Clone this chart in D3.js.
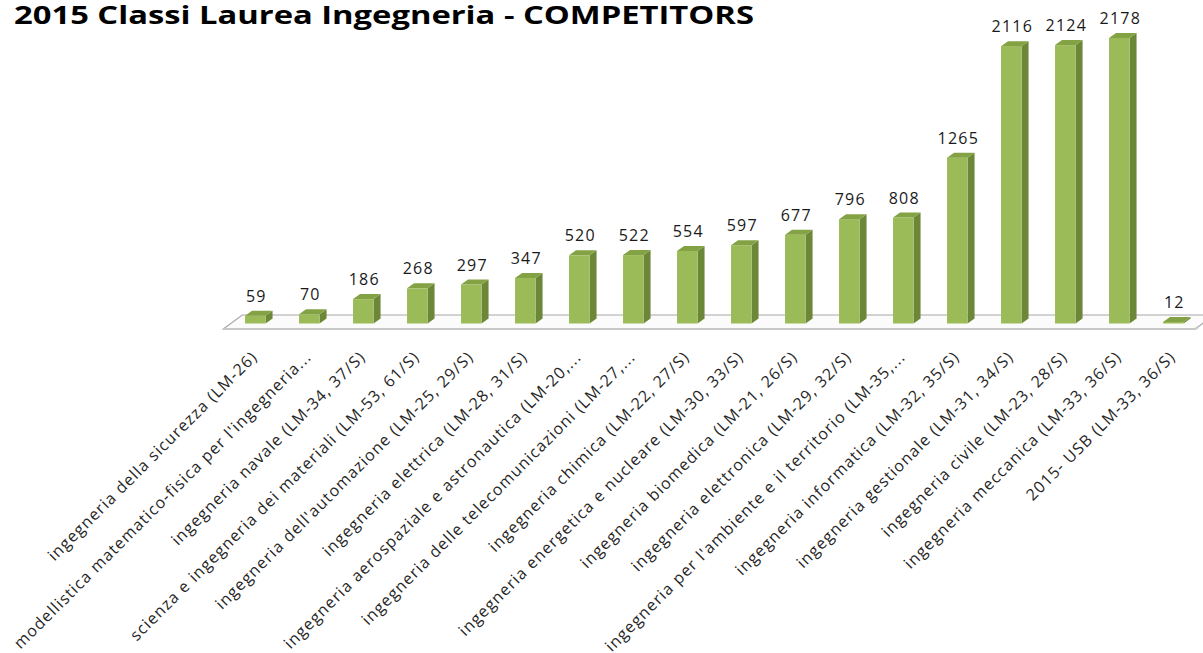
<!DOCTYPE html>
<html><head><meta charset="utf-8">
<script src="https://cdn.jsdelivr.net/npm/d3@7/dist/d3.min.js"></script>
<style>body{margin:0;background:#fff;overflow:hidden}svg{display:block}</style>
</head><body><svg id="c" width="1203" height="653"></svg>
<script>
const title = "2015 Classi Laurea Ingegneria - COMPETITORS";
const categories = [
  "ingegneria della sicurezza (LM-26)",
  "modellistica matematico-fisica per l'ingegneria...",
  "ingegneria navale (LM-34, 37/S)",
  "scienza e ingegneria dei materiali (LM-53, 61/S)",
  "ingegneria dell'automazione (LM-25, 29/S)",
  "ingegneria elettrica (LM-28, 31/S)",
  "ingegneria aerospaziale e astronautica (LM-20,...",
  "ingegneria delle telecomunicazioni (LM-27,...",
  "ingegneria chimica (LM-22, 27/S)",
  "ingegneria energetica e nucleare (LM-30, 33/S)",
  "ingegneria biomedica (LM-21, 26/S)",
  "ingegneria elettronica (LM-29, 32/S)",
  "ingegneria per l'ambiente e il territorio (LM-35,...",
  "ingegneria informatica (LM-32, 35/S)",
  "ingegneria gestionale (LM-31, 34/S)",
  "ingegneria civile (LM-23, 28/S)",
  "ingegneria meccanica (LM-33, 36/S)",
  "2015- USB  (LM-33, 36/S)"
];
const values = [59,70,186,268,297,347,520,522,554,597,677,796,808,1265,2116,2124,2178,12];

const svg = d3.select("#c");
const x = d3.scaleBand().domain(categories).range([228.3, 228.3 + 54*18]).paddingInner(0.62).paddingOuter(0.31);
const y = d3.scaleLinear().domain([0, 2178]).range([323.5, 38]);
const dx = 7, dy = -5;
const fdx = 19, fdy = -14;

// title
svg.append("text").attr("x", 14).attr("y", 24)
  .attr("font-family", "'Open Sans', sans-serif").attr("font-weight", "bold").attr("font-size", 25)
  .attr("textLength", 740).attr("lengthAdjust", "spacingAndGlyphs")
  .attr("fill", "#000").text(title);

// floor
const r = x.range();
const fl = r[0] - 5, fr = r[1] - 5, fy = 329;
svg.append("path")
  .attr("d", `M${fl},${fy} L${fl+fdx},${fy+fdy} L${fr+fdx},${fy+fdy} L${fr},${fy} Z`)
  .attr("fill", "#fbfbfb").attr("stroke", "#a8a8a8").attr("stroke-width", 1.2);
svg.append("path")
  .attr("d", `M${fl},${fy} L${fr},${fy} L${fr+fdx*0.15},${fy-2} `)
  .attr("fill", "none").attr("stroke", "#c8c8c8").attr("stroke-width", 2.2);

const data = categories.map((c, i) => ({c, v: values[i]}));
const g = svg.append("g");
const bw = x.bandwidth();
const y0 = y(0);
data.forEach(d => {
  const x0 = x(d.c), yt = y(d.v);
  g.append("path").attr("d", `M${x0+bw},${yt} L${x0+bw+dx},${yt+dy} L${x0+bw+dx},${y0+dy} L${x0+bw},${y0} Z`)
    .attr("fill", "#6c8738");
  g.append("rect").attr("x", x0).attr("y", yt).attr("width", bw).attr("height", y0 - yt).attr("fill", "#9bbb59");
  g.append("path").attr("d", `M${x0},${yt} L${x0+dx},${yt+dy} L${x0+bw+dx},${yt+dy} L${x0+bw},${yt} Z`)
    .attr("fill", "#83a244");
  g.append("text").attr("x", x0 + bw/2 + 1).attr("y", yt - 14)
    .attr("text-anchor", "middle").attr("font-family", "'Open Sans', sans-serif").attr("font-size", 16)
    .attr("letter-spacing", 1.2).attr("fill", "#1a1a1a").text(d.v);
});

// category labels
svg.append("g").selectAll("text").data(data).join("text")
  .attr("transform", d => `translate(${x(d.c) + bw/2 + 3},358) rotate(-45)`)
  .attr("text-anchor", "end").attr("font-family", "'Open Sans', sans-serif").attr("font-size", 16)
  .attr("letter-spacing", 1.1)
  .attr("fill", "#262626").text(d => d.c);
</script></body></html>
